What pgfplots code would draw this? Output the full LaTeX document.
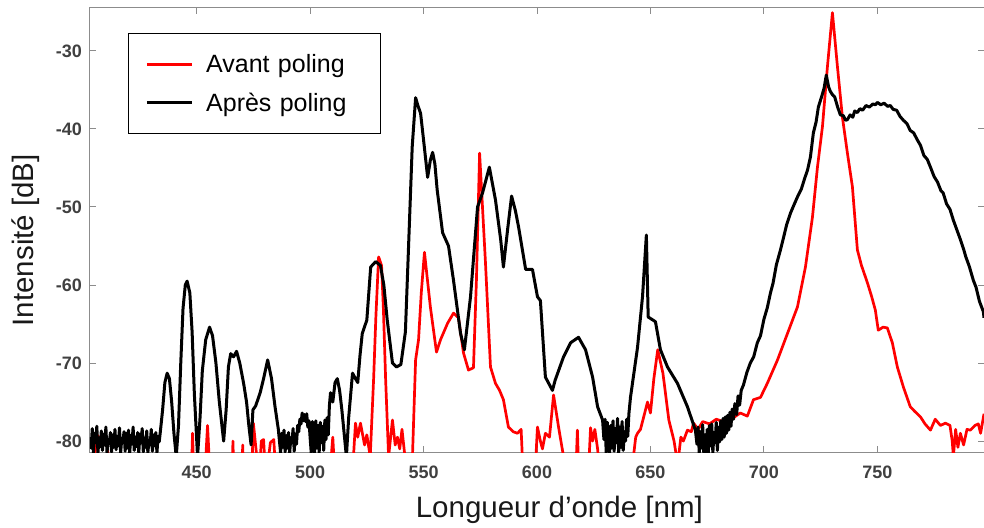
\documentclass[border=0pt]{standalone}
\usepackage{pgfplots}
\pgfplotsset{compat=1.18}
\usepackage{fontspec}
\setmainfont{Liberation Sans}
\definecolor{axisgray}{RGB}{140,140,140}
\definecolor{ticktext}{RGB}{64,64,64}
\definecolor{curvered}{RGB}{255,0,0}
\begin{document}
\begin{tikzpicture}
\path[use as bounding box] (-90bp,-76bp) rectangle (894bp,452bp);
\begin{axis}[
  at={(0,0)}, anchor=south west,
  scale only axis, width=894bp, height=444bp,
  xmin=403, xmax=797, ymin=-81.4, ymax=-24.5,
  xtick={450,500,...,750}, xticklabels={450,500,550,600,650,700,750},
  ytick={-80,-70,...,-30}, yticklabels={-80,-70,-60,-50,-40,-30},
  tick align=inside, xtick pos=both, ytick pos=both,
  xticklabel pos=left, yticklabel pos=left,
  major tick length=6bp,
  axis line style={draw=axisgray, line width=1bp},
  every tick/.style={draw=axisgray, line width=1bp},
  ticklabel style={font=\fontsize{18bp}{20bp}\selectfont\bfseries, text=ticktext},
  xticklabel style={inner sep=0pt, anchor=north, yshift=-14bp},
  yticklabel style={inner sep=0pt, anchor=east, xshift=-8bp},
  xlabel={Longueur d’onde [nm]}, ylabel={Intensité [dB]},
  label style={font=\fontsize{29.5bp}{33bp}\selectfont, text=black!90},
  xlabel style={at={(axis description cs:0.525,-0.1306)}, anchor=center},
  ylabel style={at={(axis description cs:-0.0716,0.477)}, anchor=center},
  legend cell align=left,
  legend image code/.code={\draw[#1, line width=2.6bp] (0bp,0bp) -- (45bp,0bp);},
  legend style={at={(axis description cs:0.0425,0.9437)}, anchor=north west,
    draw=black, line width=1.2bp, fill=white, inner xsep=17bp, inner ysep=21bp, row sep=18.5bp,
    font=\fontsize{25bp}{29bp}\selectfont,
    nodes={inner sep=0pt, text width=157bp},
    /tikz/every odd column/.append style={column sep=13bp}},
]
\addplot[curvered, line width=2.7bp, line join=round] coordinates {
(403,-85) (405.5,-81) (406.5,-79.3) (407.5,-80.2) (408.5,-79.5) (409.5,-80.4) (410.5,-79.8) (411.5,-85)
(447.6,-85) (448.2,-79) (448.8,-85) (453.5,-85) (454.8,-78) (456,-85)
(465.6,-85) (466,-80) (466.4,-85) (469.9,-85) (470.3,-80.5) (470.7,-85)
(474.2,-85) (475,-77.7) (476.5,-82) (477.5,-85) (478.5,-80) (479.5,-79.8) (480.5,-85)
(482.5,-80.2) (484,-79.8) (485,-85)
(508.5,-85) (510,-79.5) (511,-85)
(518.5,-85) (520,-77.7) (521,-79.5) (522.2,-77.7) (524,-80.5) (525,-79.2) (526.5,-82)
(528,-72) (529,-64) (530.2,-56.4) (531.5,-57.5) (532.3,-63) (533.3,-72.2) (534.6,-82)
(536.3,-77.3) (537.5,-80.5) (538.5,-79.5) (539.5,-81) (540.5,-78.5) (541.5,-81.2) (543,-85)
(545,-83) (546.5,-69.6) (547.8,-67) (549,-61) (550.4,-55.8) (553,-62.8) (555.7,-68.6)
(557.5,-67) (560.6,-64.9) (563.2,-63.6) (565.4,-64.2) (567.6,-68.7) (569.8,-70.9) (572,-70.6)
(573.3,-59.4) (574.7,-43.1) (577.3,-57.2) (579.5,-70.5) (581.7,-72.6) (583.5,-73.5) (585.2,-74.7)
(587.4,-78.2) (589.5,-78.8) (591.4,-79) (593,-78.5) (594,-85)
(599,-85) (600.2,-78.2) (601.5,-80) (602.4,-81) (603.7,-79) (605.5,-79.5) (607.3,-74.1)
(609.5,-78.2) (611.7,-82) (614,-85) (617,-85) (617.8,-78.6) (618.5,-85)
(622.5,-85) (623.6,-78.3) (624.5,-80) (625.5,-78.5) (626.7,-81) (628,-85)
(641.5,-85) (642.5,-82) (643.5,-79.5) (644.3,-79) (645.6,-78.5) (646.5,-77.5) (648.7,-75)
(650,-76.4) (651.5,-72) (653.2,-68.3) (655.5,-71.3) (658.1,-77.3) (660.4,-80) (662,-83)
(663.4,-79.5) (664.5,-80) (666.3,-78.6) (668,-78.8) (669,-77.7) (671,-78.5) (673,-77.5)
(676,-77.8) (679,-77.2) (682,-77.5) (684,-77) (686.6,-77) (689.6,-76.4) (692.7,-76.8)
(695.4,-74.7) (698.5,-74.4) (701.5,-72.6) (706,-69.6) (710.4,-66.2) (714.8,-62.8)
(718.3,-57.7) (721.4,-51.3) (723.6,-44.9) (725.8,-39.7) (728,-32) (730.2,-25.1)
(732.4,-32) (734.6,-38.5) (736.8,-43.1) (739,-47.4) (741.2,-55.5) (743,-57.5) (745.6,-59.7)
(747.5,-61.5) (749.1,-63.2) (750.4,-65.8) (752.5,-65.4) (754.4,-65.5) (756.6,-67.4)
(758.8,-70.5) (761.5,-73.1) (764.5,-75.6) (766.5,-76.2) (769,-76.9) (771,-77.8) (773.4,-78.6)
(775.5,-77.2) (777.8,-78) (780,-77.7) (782,-78) (783,-80) (783.5,-82) (784.5,-78.5)
(785.5,-80.8) (786.6,-79) (788,-80.5) (789.5,-78.5) (791,-78.6) (793,-78) (794.5,-77.8)
(795.5,-79) (797,-76.5)
};
\addlegendentry{Avant poling}
\addplot[black, line width=3bp, line join=round] coordinates {
(403,-79.5) (403.5,-80.9) (404,-78.4) (404.5,-81.5) (405,-79) (405.5,-80.2) (406,-78.1) (406.5,-81.5)
(407,-79.6) (407.5,-80.7) (408,-78.7) (408.5,-81.2) (409,-79.1) (409.5,-80.5) (410,-78.2) (410.5,-81.5)
(411,-79.8) (411.5,-80.3) (412,-78.9) (412.5,-81.4) (413,-79.2) (413.5,-80.8) (414,-78.5) (414.5,-81.1)
(415,-79.4) (415.5,-80.6) (416,-78.3) (416.5,-81.5) (417,-79.7) (417.5,-80.1) (418,-78.8) (418.5,-81.3)
(419,-79) (419.5,-80.9) (420,-78.6) (420.5,-81.5) (421,-79.3) (421.5,-80.4) (422,-78.2) (422.5,-81.2)
(423,-79.5) (423.5,-80.7) (424,-78.9) (424.5,-81.5) (425,-79.1) (425.5,-80.2) (426,-78.4) (426.5,-81.4)
(427,-79.6) (427.5,-80.8) (428,-78.7) (428.5,-81.5) (429,-79.9) (429.5,-80.5) (430,-78.5) (430.5,-81.3)
(431,-79.2) (431.5,-80.6) (432,-78.9) (432.5,-81.5) (433,-79.4) (433.5,-80.1) (434,-78.8)
(435,-76) (436,-72.5) (437,-71.3) (438,-72) (439,-75) (440,-79) (441,-82) (442,-78)
(443,-70) (444,-63) (445,-60) (445.8,-59.5) (447,-61) (448,-66) (449,-74) (450.4,-82)
(451.5,-77) (452.5,-71) (454,-67) (455.7,-65.4) (457,-66.5) (458.5,-70) (460,-75) (461.9,-80)
(463,-76) (464,-70.5) (465,-68.8) (466.3,-69.2) (467.6,-68.5) (469,-70) (470.7,-72.6)
(472,-75) (473,-78) (474,-80.5) (474.8,-76) (476,-75.5) (478,-73.8) (479.5,-72) (481.3,-69.6)
(483,-72) (484.5,-75.5) (486,-78.5) (486.5,-80) (487,-81.5) (487.5,-79) (488,-80.8) (488.5,-78.6)
(489,-81.4) (489.5,-79.3) (490,-80.9) (490.5,-78.9) (491,-81.5) (491.5,-79.6) (492,-80.2) (492.5,-78.4)
(493,-81.3) (493.5,-79.1) (494,-80.4) (494.5,-78) (495,-78.8) (495.5,-77.2) (496,-77.8) (496.5,-76.4)
(497,-77.4) (497.5,-76.6) (498,-77.5) (498.5,-76.5) (499,-78.2) (499.5,-77.4) (500,-79.5) (500.5,-81.5)
(501,-77.5) (501.5,-80.6) (502,-81.5) (502.5,-77.4) (503,-80.9) (503.5,-78) (504,-81.5) (504.5,-77.6)
(505,-80.2) (505.5,-78.1) (506,-81.2) (506.5,-77.3) (507,-79.8) (507.5,-77) (508,-79.2) (508.5,-75.5)
(509,-73.8) (510,-75) (511,-72.5) (512,-72) (513,-73.5)
(514,-76) (515,-79) (516,-82) (517,-77) (518.7,-71.3) (520,-72) (521,-72.5) (522,-69)
(523,-66.2) (525,-64.5) (526.7,-57.7) (528.9,-57) (531,-57.5) (532.5,-60) (534,-64.5)
(536.3,-70) (538,-70.5) (540,-70.2) (542,-66) (543.4,-55) (545,-42.3) (546.5,-36)
(547.5,-37) (548.7,-38) (550,-41.4) (551.8,-46.2) (553,-44) (554,-43) (555,-44.5)
(556,-47.8) (558.4,-53.3) (561,-55) (563.2,-59.4) (566.3,-66.2) (568,-68.3) (570.7,-61.5)
(573.8,-50) (576,-48.2) (579,-44.9) (581.7,-49.1) (584,-54.2) (585.2,-57.7) (587,-53)
(588.8,-48.6) (590.5,-50.5) (591.9,-52.6) (595,-58) (598,-58) (600.2,-61.5) (601.5,-62)
(603.7,-71.8) (606.8,-73.5) (608,-72.2) (611.7,-69.2) (614.8,-67.4) (618.3,-66.7)
(621.4,-68.3) (624.5,-71.8) (626.7,-75.6) (628.9,-77.3) (629.5,-79.8) (630,-77.2) (630.5,-81.5)
(631,-77.6) (631.5,-80.4) (632,-81.5) (632.5,-78) (633,-80.9) (633.5,-77.4) (634,-81.3) (634.5,-78.4)
(635,-80.2) (635.5,-77.1) (636,-81.5) (636.5,-78.2) (637,-80.8) (637.5,-77.5) (638,-81.2) (638.5,-78.8)
(639,-80) (639.5,-77.2) (640,-79.4) (640.5,-76.5) (641.2,-74.4) (644.3,-68) (646.5,-61.5)
(648.2,-53.6) (649,-64.1) (652.2,-64.7)
(654.4,-68.3) (657.5,-70.5) (661.9,-72.6) (666.3,-75.6) (669.8,-78.6) (670.5,-80.4) (671,-78.2)
(671.5,-81.5) (672,-78.8) (672.5,-80.9) (673,-77.9) (673.5,-81.5) (674,-79.2) (674.5,-81.4) (675,-78.5)
(675.5,-81.5) (676,-78) (676.5,-80.6) (677,-77.8) (677.5,-81.5) (678,-78.9) (678.5,-80.2) (679,-77.6)
(679.5,-81.2) (680,-78.2) (680.5,-80.1) (681,-77.4) (681.5,-79.8) (682,-77.1) (682.5,-79.5) (683,-76.9)
(683.5,-79) (684,-76.7) (684.5,-78.6) (685,-76.3) (685.5,-78.1) (686,-75.9) (686.6,-77.2) (687.2,-75.2)
(688,-76.6) (688.6,-74.2) (689.3,-75.4) (690,-73.5) (691,-72.8) (692.5,-71.2) (694,-70)
(695.5,-69.2) (697.1,-67.4) (698.5,-66.5) (700,-64.4) (701.5,-62.9) (702.9,-61) (704,-59.8)
(705.5,-57.4) (707.3,-55.5) (708.5,-54.1) (710,-52.3) (711.7,-50.8) (713,-49.9) (714.8,-48.7)
(716.5,-47.7) (718,-46.3) (719.2,-45.3) (720.5,-43.6) (721.8,-40.5) (723,-39.1) (724,-37.2)
(725.5,-35.8) (726.5,-34.8) (727.5,-33.1) (728.5,-34.6) (729.3,-35.2) (730.2,-35.6) (731.2,-35.9)
(732.5,-37.2) (733.7,-38.2) (735,-38.3) (736,-38.9) (736.8,-38.8) (738,-38.2) (739.2,-38.5)
(740,-37.7) (741.2,-37.9) (742.3,-37.4) (743.5,-37.6) (745,-37) (746.5,-37.2) (748,-36.8)
(749.2,-36.9) (750,-36.6) (751.5,-36.9) (753,-36.7) (754.5,-37.1) (755.7,-37) (757,-37.5)
(758.5,-37.6) (760,-38.4) (761.5,-38.9) (763,-39.3) (764.5,-40.2) (766,-40.5) (767.6,-41.4)
(769,-42.1) (770.5,-43.4) (772,-43.9) (773.4,-44.9) (775,-46.1) (776.5,-46.8) (778,-47.9)
(779,-48.2) (780.5,-49.6) (782,-50.3) (783.5,-51.7) (785,-52.9) (786.5,-54.1) (787.9,-55.3)
(789,-56.4) (790.5,-57.6) (792.3,-59.4) (793.5,-60.3) (795,-62.1) (796.7,-63.4) (797,-64.2)
};
\addlegendentry{Après poling}
\end{axis}
\end{tikzpicture}
\end{document}
